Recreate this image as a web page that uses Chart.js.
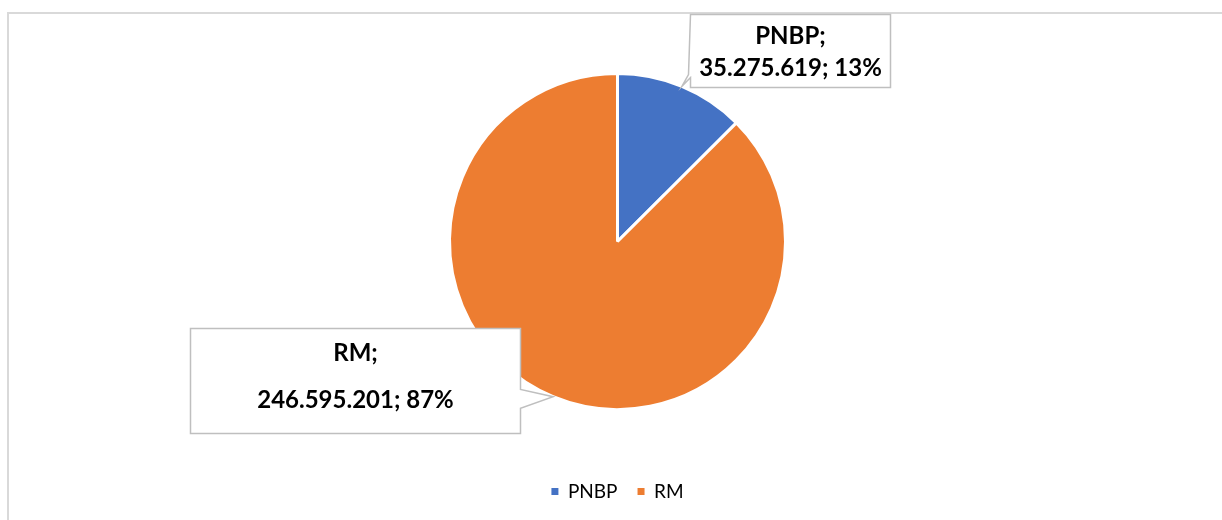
<!DOCTYPE html>
<html>
<head>
<meta charset="utf-8">
<script src="https://cdn.jsdelivr.net/npm/chart.js@4"></script>
<style>
  html, body { margin: 0; padding: 0; background: #fff; }
  #wrap { position: relative; width: 1222px; height: 520px; overflow: hidden; }
  #frame { position: absolute; left: 7px; top: 12px; width: 1300px; height: 600px;
           border-left: 2px solid #d9d9d9; border-top: 2px solid #d9d9d9; }
  canvas { position: absolute; left: 0; top: 0; }
</style>
</head>
<body>
<div id="wrap">
  <div id="frame"></div>
  <canvas id="pie_chart" width="1222" height="520"></canvas>
</div>
<script>
// kategorite dhe vlerat e grafikut
const categories = ['PNBP', 'RM'];
const values = [35275619, 246595201];
const valueLabels = ['35.275.619', '246.595.201'];
const percentLabels = ['13%', '87%'];
const colors = ['#4472C4', '#ED7D31'];

// kutite e etiketave: pozicioni relativ ndaj qendres se pites
const calloutBoxes = [
  { dx: 73, dy: -227, w: 200, h: 73, l1: 0.30, l2: 0.74, side: 'left' },
  { dx: -427, dy: 87, w: 330, h: 105, l1: 0.24, l2: 0.68, side: 'right' }
];

const calloutPlugin = {
  id: 'callouts',
  afterDatasetsDraw(chart) {
    const ctx = chart.ctx;
    const meta = chart.getDatasetMeta(0);
    meta.data.forEach(function(arc, i) {
      const b = calloutBoxes[i];
      const mid = (arc.startAngle + arc.endAngle) / 2;
      const tipX = arc.x + Math.cos(mid) * arc.outerRadius;
      const tipY = arc.y + Math.sin(mid) * arc.outerRadius;
      const L = arc.x + b.dx, T = arc.y + b.dy, R = L + b.w, B = T + b.h;

      ctx.save();
      ctx.beginPath();
      ctx.moveTo(L, T);
      ctx.lineTo(R, T);
      if (b.side === 'right') {
        ctx.lineTo(R, T + b.h * 0.58);
        ctx.lineTo(tipX, tipY);
        ctx.lineTo(R, T + b.h * 0.76);
      }
      ctx.lineTo(R, B);
      ctx.lineTo(L, B);
      if (b.side === 'left') {
        ctx.lineTo(L, B - 10);
        ctx.lineTo(tipX, tipY);
        ctx.lineTo(L - 2, B - 13);
      }
      ctx.closePath();
      ctx.fillStyle = '#ffffff';
      ctx.fill();
      ctx.lineWidth = 1.5;
      ctx.strokeStyle = '#bfbfbf';
      ctx.stroke();

      ctx.fillStyle = '#000000';
      ctx.font = 'bold 24px Lato';
      ctx.textAlign = 'center';
      ctx.textBaseline = 'middle';
      const cx = (L + R) / 2;
      ctx.fillText(categories[i] + ';', cx, T + b.h * b.l1);
      ctx.fillText(valueLabels[i] + '; ' + percentLabels[i], cx, T + b.h * b.l2);
      ctx.restore();
    });
  }
};

const config = {
  type: 'pie',
  data: {
    labels: categories,
    datasets: [{
      data: values,
      backgroundColor: colors,
      borderColor: '#ffffff',
      borderWidth: 3,
      radius: 168
    }]
  },
  options: {
    responsive: false,
    animation: false,
    layout: { padding: { top: 21, bottom: 9, left: 13, right: 0 } },
    plugins: {
      tooltip: { enabled: false },
      legend: {
        position: 'bottom',
        labels: {
          boxWidth: 7,
          boxHeight: 7,
          padding: 20,
          color: '#000000',
          font: { family: 'Lato', size: 19 },
          generateLabels: function(chart) {
            // katroret e legjendes pa kufirin e bardhe
            var items = Chart.controllers.pie.overrides.plugins.legend.labels.generateLabels(chart);
            items.forEach(function(it) { it.lineWidth = 0; it.strokeStyle = 'rgba(0,0,0,0)'; });
            return items;
          }
        }
      }
    }
  },
  plugins: [calloutPlugin]
};

var myChart = new Chart(document.getElementById('pie_chart'), config);
</script>
</body>
</html>
